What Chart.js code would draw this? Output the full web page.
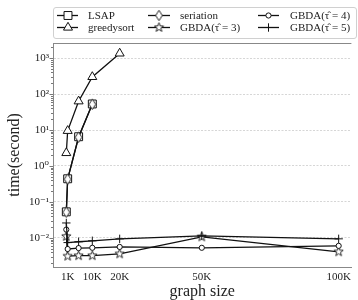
<!DOCTYPE html>
<html><head><meta charset="utf-8">
<script src="https://cdn.jsdelivr.net/npm/chart.js@4/dist/chart.umd.min.js"></script>
<style>html,body{margin:0;padding:0;background:#fff}#wrap{width:358px;height:300px;position:relative}canvas{display:block}</style>
</head><body><div id="wrap"><canvas id="c" width="358" height="300"></canvas></div>
<script>
// ---- data ----
const sizesLSAP = [500, 1000, 5000, 10000];
const sizesGreedy = [500, 1000, 5000, 10000, 20000];
const sizesGBDA = [500, 1000, 5000, 10000, 20000, 50000, 100000];
const timeLSAP = [0.053, 0.44, 6.5, 53];
const timeSeriation = [0.052, 0.43, 6.3, 52];
const timeGreedy = [2.3, 9.5, 63, 300, 1350];
const timeGBDA3 = [0.011, 0.0031, 0.0032, 0.0032, 0.0036, 0.0107, 0.0041];
const timeGBDA4 = [0.017, 0.0049, 0.0052, 0.0053, 0.0056, 0.0053, 0.0060];
const timeGBDA5 = [0.026, 0.0074, 0.0078, 0.0083, 0.0094, 0.0114, 0.0094];
const xTickValues = [1000, 10000, 20000, 50000, 100000];
const xTickLabels = ['1K', '10K', '20K', '50K', '100K'];
const yTickExponents = [-2, -1, 0, 1, 2, 3];
const seriesNames = ['LSAP', 'greedysort', 'seriation', 'GBDA(τ̂ = 3)', 'GBDA(τ̂ = 4)', 'GBDA(τ̂ = 5)'];

const FONT = "'Liberation Serif', 'DejaVu Serif', serif";
const INK = '#111';

function makeStar(size, R, r) {
  const c = document.createElement('canvas'); c.width = c.height = size;
  const g = c.getContext('2d'); g.beginPath();
  for (let i = 0; i < 10; i++) {
    const ang = -Math.PI / 2 + i * Math.PI / 5, rad = i % 2 ? r : R;
    g.lineTo(size / 2 + rad * Math.cos(ang), size / 2 + rad * Math.sin(ang));
  }
  g.closePath(); g.fillStyle = '#fff'; g.fill(); g.strokeStyle = INK; g.lineWidth = 0.9; g.stroke();
  return c;
}
function makeDiamond(w, h, hw, hh) {
  const c = document.createElement('canvas'); c.width = w; c.height = h;
  const g = c.getContext('2d'); g.beginPath();
  g.moveTo(w / 2, h / 2 - hh); g.lineTo(w / 2 + hw, h / 2); g.lineTo(w / 2, h / 2 + hh); g.lineTo(w / 2 - hw, h / 2); g.closePath();
  g.fillStyle = '#fff'; g.fill(); g.strokeStyle = INK; g.lineWidth = 0.9; g.stroke();
  return c;
}
const starImg = makeStar(11, 4.8, 2.0);
const diamondImg = makeDiamond(9, 13, 3.3, 5.2);

function pts(xs, ys) { return xs.map((x, i) => ({ x: x, y: ys[i] })); }

const markers = [
  { style: 'rect', radius: 5.6 },
  { style: 'triangle', radius: 5.2 },
  { style: diamondImg, radius: 5 },
  { style: starImg, radius: 5 },
  { style: 'circle', radius: 2.6 },
  { style: 'cross', radius: 4.2 }
];
const seriesData = [
  pts(sizesLSAP, timeLSAP), pts(sizesGreedy, timeGreedy), pts(sizesLSAP, timeSeriation),
  pts(sizesGBDA, timeGBDA3), pts(sizesGBDA, timeGBDA4), pts(sizesGBDA, timeGBDA5)
];

const datasets = seriesNames.map((name, i) => ({
  label: name,
  data: seriesData[i],
  borderColor: INK,
  borderWidth: 1.3,
  pointStyle: markers[i].style,
  pointRadius: markers[i].radius,
  pointHoverRadius: markers[i].radius,
  pointBackgroundColor: '#fff',
  pointBorderColor: INK,
  pointBorderWidth: 1,
  fill: false,
  tension: 0,
  order: 6 - i
}));

const sup = { '-': '⁻', '0': '⁰', '1': '¹', '2': '²', '3': '³', '4': '⁴', '5': '⁵', '6': '⁶', '7': '⁷', '8': '⁸', '9': '⁹' };
function supText(n) { return String(n).split('').map(ch => sup[ch]).join(''); }

function drawMarker(ctx, m, x, y) {
  if (typeof m.style !== 'string') { ctx.drawImage(m.style, x - m.style.width / 2, y - m.style.height / 2); return; }
  ctx.save(); ctx.fillStyle = '#fff'; ctx.strokeStyle = INK; ctx.lineWidth = 1; ctx.beginPath();
  const r = m.radius;
  if (m.style === 'rect') { const s = r * Math.SQRT1_2; ctx.rect(x - s, y - s, 2 * s, 2 * s); ctx.fill(); ctx.stroke(); }
  else if (m.style === 'triangle') {
    let a = 0; ctx.moveTo(x + Math.sin(a) * r, y - Math.cos(a) * r);
    a += 2 * Math.PI / 3; ctx.lineTo(x + Math.sin(a) * r, y - Math.cos(a) * r);
    a += 2 * Math.PI / 3; ctx.lineTo(x + Math.sin(a) * r, y - Math.cos(a) * r);
    ctx.closePath(); ctx.fill(); ctx.stroke();
  } else if (m.style === 'circle') { ctx.arc(x, y, r, 0, Math.PI * 2); ctx.fill(); ctx.stroke(); }
  else if (m.style === 'cross') { ctx.moveTo(x - r, y); ctx.lineTo(x + r, y); ctx.moveTo(x, y - r); ctx.lineTo(x, y + r); ctx.stroke(); }
  ctx.restore();
}

const extras = {
  id: 'extras',
  afterDraw(chart) {
    const ctx = chart.ctx, a = chart.chartArea, ys = chart.scales.y;
    ctx.save();
    // top spine
    ctx.strokeStyle = '#888'; ctx.lineWidth = 1;
    ctx.beginPath(); ctx.moveTo(a.left, Math.round(a.top) + 0.5); ctx.lineTo(a.right, Math.round(a.top) + 0.5); ctx.stroke();
    // y tick marks (major + minor)
    ctx.strokeStyle = '#555'; ctx.lineWidth = 0.8; ctx.beginPath();
    for (let e = -3; e <= 3; e++) {
      for (let m = 1; m <= 9; m++) {
        const v = m * Math.pow(10, e);
        if (v < ys.min || v > ys.max) continue;
        const py = Math.round(ys.getPixelForValue(v)) + 0.5;
        const len = m === 1 ? 3.5 : 2;
        ctx.moveTo(a.left - len, py); ctx.lineTo(a.left, py);
      }
    }
    ctx.stroke();
    // legend
    const bx = 53.5, by = 7.5, bw = 303, bh = 31;
    ctx.fillStyle = 'rgba(255,255,255,0.85)'; ctx.strokeStyle = '#d0d0d0'; ctx.lineWidth = 1;
    ctx.beginPath(); ctx.roundRect(bx, by, bw, bh, 2.5); ctx.fill(); ctx.stroke();
    const cols = [{ l0: 57, l1: 78, mx: 68, tx: 88 }, { l0: 148, l1: 170, mx: 159, tx: 180 }, { l0: 258, l1: 279, mx: 268.5, tx: 290 }];
    const rows = [15.5, 27.5];
    ctx.font = '11px ' + FONT; ctx.textBaseline = 'middle'; ctx.textAlign = 'left';
    seriesNames.forEach((name, i) => {
      const c = cols[Math.floor(i / 2)], y = rows[i % 2];
      ctx.strokeStyle = INK; ctx.lineWidth = 1.3;
      ctx.beginPath(); ctx.moveTo(c.l0, y); ctx.lineTo(c.l1, y); ctx.stroke();
      drawMarker(ctx, markers[i], c.mx, y);
      ctx.fillStyle = '#222'; ctx.fillText(name, c.tx, y + 0.5);
    });
    ctx.restore();
  }
};

new Chart(document.getElementById('c'), {
  type: 'line',
  data: { datasets: datasets },
  options: {
    responsive: false,
    animation: false,
    devicePixelRatio: 1,
    layout: { padding: { top: 43, left: 0, right: 0, bottom: 0 } },
    plugins: { legend: { display: false }, tooltip: { enabled: false } },
    scales: {
      x: {
        type: 'linear',
        min: -4360, max: 104650,
        afterBuildTicks: s => { s.ticks = xTickValues.map(v => ({ value: v })); },
        afterFit: s => { s.height = 33; },
        ticks: {
          autoSkip: false, maxRotation: 0, padding: 4, color: '#222',
          font: { family: FONT, size: 11 },
          callback: v => xTickLabels[xTickValues.indexOf(v)]
        },
        grid: { display: false, drawTicks: false },
        border: { display: true, color: '#888', width: 1 },
        title: { display: true, text: 'graph size', color: '#222', font: { family: FONT, size: 16, lineHeight: 1 }, padding: { top: 0, bottom: 0 } }
      },
      y: {
        type: 'logarithmic',
        min: Math.pow(10, -2.81), max: Math.pow(10, 3.42),
        afterBuildTicks: s => { s.ticks = yTickExponents.map(e => ({ value: Math.pow(10, e), major: true })); },
        afterFit: s => { s.width = 53; },
        ticks: {
          padding: 4, color: '#222', font: { family: FONT, size: 11 },
          callback: v => '10' + supText(Math.round(Math.log10(v)))
        },
        grid: { display: true, drawTicks: false, color: '#c4c4c4', lineWidth: 0.7 },
        border: { display: true, color: '#888', width: 1, dash: [2, 1.5] },
        title: { display: true, text: 'time(second)', color: '#222', font: { family: FONT, size: 16, lineHeight: 1 }, padding: { top: 7, bottom: 0 } }
      }
    }
  },
  plugins: [extras]
});
</script>
</body></html>
